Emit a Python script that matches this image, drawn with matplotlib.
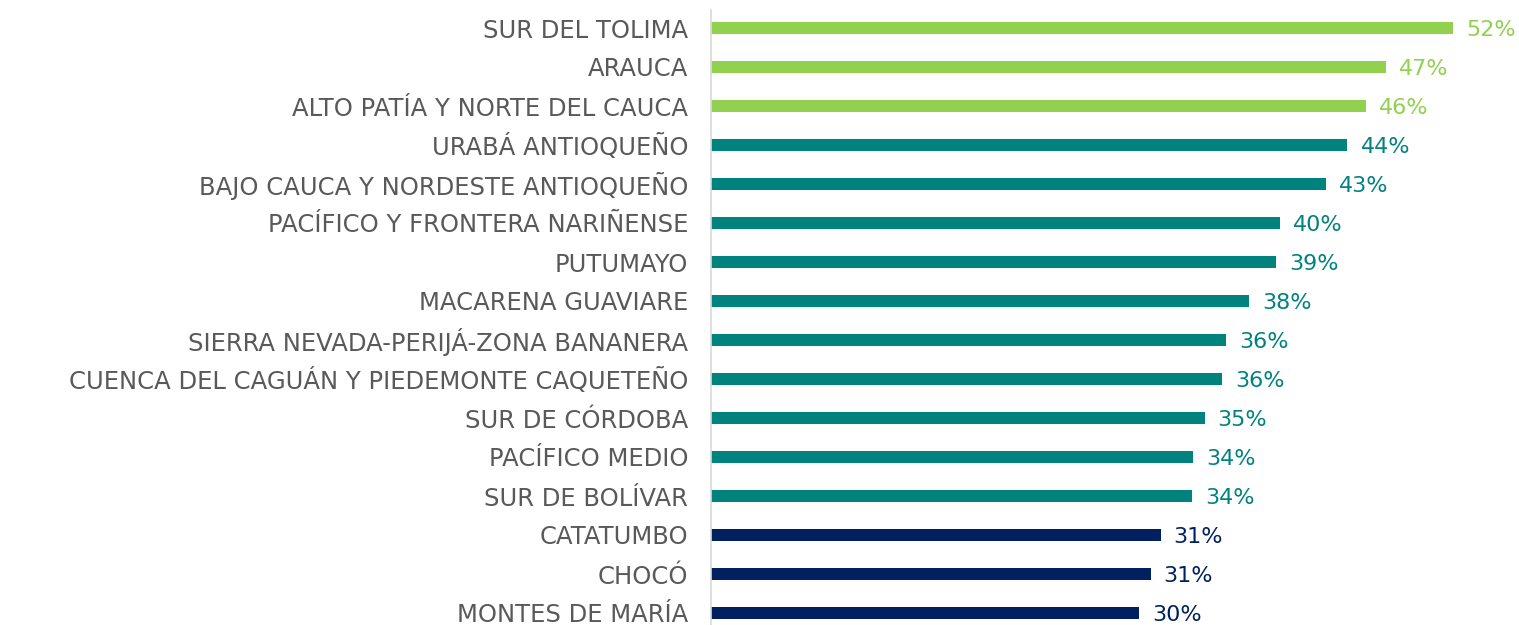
import matplotlib.pyplot as plt

regiones = ['SUR DEL TOLIMA', 'ARAUCA', 'ALTO PATÍA Y NORTE DEL CAUCA', 'URABÁ ANTIOQUEÑO',
            'BAJO CAUCA Y NORDESTE ANTIOQUEÑO', 'PACÍFICO Y FRONTERA NARIÑENSE', 'PUTUMAYO',
            'MACARENA GUAVIARE', 'SIERRA NEVADA-PERIJÁ-ZONA BANANERA',
            'CUENCA DEL CAGUÁN Y PIEDEMONTE CAQUETEÑO', 'SUR DE CÓRDOBA', 'PACÍFICO MEDIO',
            'SUR DE BOLÍVAR', 'CATATUMBO', 'CHOCÓ', 'MONTES DE MARÍA']
valores = [52.0, 47.3, 45.9, 44.6, 43.1, 39.9, 39.6, 37.7, 36.1, 35.8, 34.6, 33.8, 33.7, 31.5, 30.8, 30.0]
etiquetas = ['52%', '47%', '46%', '44%', '43%', '40%', '39%', '38%', '36%', '36%',
             '35%', '34%', '34%', '31%', '31%', '30%']
grupo = ['alto'] * 3 + ['medio'] * 10 + ['bajo'] * 3

colores = {'alto': '#92D050', 'medio': '#00827F', 'bajo': '#002060'}

W, H = 1519, 625
fig = plt.figure(figsize=(W / 100, H / 100), dpi=100)
x0 = 711
px_pct = 14.27
ax = fig.add_axes([x0 / W, 0, (W - x0) / W, 1])

y = list(range(len(regiones)))
cols = [colores[g] for g in grupo]
ax.barh(y, valores, height=0.33, color=cols)

for yi, v, lab, c in zip(y, valores, etiquetas, cols):
    ax.text(v + 13 / px_pct, yi + 0.05, lab, va='center', ha='left', fontsize=16,
            color=c, family='DejaVu Sans')

ax.set_xlim(0, (W - x0) / px_pct)
ax.set_ylim(15 + 12 / 39, -28 / 39)
ax.set_yticks(y)
ax.set_yticklabels(regiones, fontsize=17.5, color='#595959')
ax.tick_params(axis='y', length=0, pad=16.5)
ax.set_xticks([])

for s in ['top', 'right', 'bottom']:
    ax.spines[s].set_visible(False)
ax.spines['left'].set_color('#D9D9D9')
ax.spines['left'].set_linewidth(1.2)
ax.spines['left'].set_bounds(15 + 12 / 39, -18 / 39)

fig.savefig('out.png', dpi=100)
